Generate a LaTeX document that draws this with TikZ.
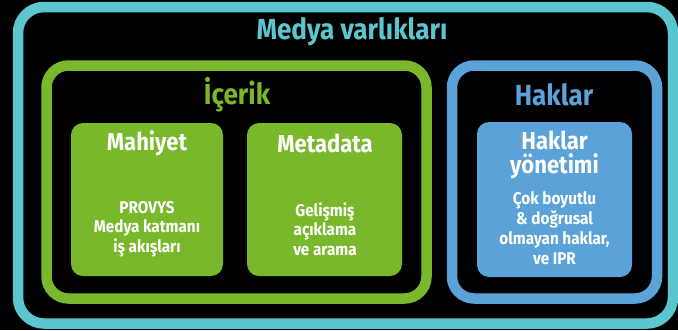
\documentclass[tikz,border=0pt]{standalone}
\usepackage{fontspec}
\setmainfont{Fira Sans}[FakeStretch=0.9]
\definecolor{cyanc}{HTML}{5BC5D0}
\definecolor{greenc}{HTML}{78B82A}
\definecolor{bluec}{HTML}{5AA2D8}
\tikzset{
  frame/.style={line width=10.5pt, rounded corners=22pt},
  card/.style={rounded corners=12pt},
  hd/.style={font=\bfseries\fontsize{29}{30}\selectfont, inner sep=0pt},
  cardtitle/.style={font=\bfseries\fontsize{24.5}{25}\selectfont, text=white, inner sep=0pt, align=center},
  body/.style={font=\bfseries\fontsize{17}{19.3}\selectfont, text=white, inner sep=0pt, align=center}
}
\begin{document}
\begin{tikzpicture}[x=1pt,y=-1pt]
\fill[black] (0,0) rectangle (678,330);
\useasboundingbox (0,0) rectangle (678,330);
% frames
\draw[cyanc, frame, rounded corners=26pt] (18,7) rectangle (673,323.5);
\draw[greenc, frame] (46.5,65.5) rectangle (426.5,298.5);
\draw[bluec, frame] (452,65.5) rectangle (657,298.5);
% cards
\fill[greenc, card] (71,123) rectangle (223,276);
\fill[greenc, card] (247,123) rectangle (402,276);
\fill[bluec, card] (477,122) rectangle (632,277);
% headings
\node[hd, text=cyanc] (medya) at (352,32) {Medya varlıkları};
\node[hd, text=greenc] (icerik) at (237,95) {İçerik};
\node[hd, text=bluec] (haklar) at (554,95) {Haklar};
% card titles
\node[cardtitle] (mahiyet) at (147,143) {Mahiyet};
\node[cardtitle] (metadata) at (325,143) {Metadata};
\node[cardtitle, font=\bfseries\fontsize{24.5}{24}\selectfont] (hy) at (554.5,155) {Haklar\\yönetimi};
% bodies
\node[body] (b1) at (147,229) {PROVYS\\Medya katmanı\\iş akışları};
\node[body] (b2) at (325,229) {Gelişmiş\\açıklama\\ve arama};
\node[body, font=\bfseries\fontsize{17}{20}\selectfont] (b3) at (554.5,228) {Çok boyutlu\\\& doğrusal\\olmayan haklar,\\ve IPR};
\end{tikzpicture}
\end{document}
